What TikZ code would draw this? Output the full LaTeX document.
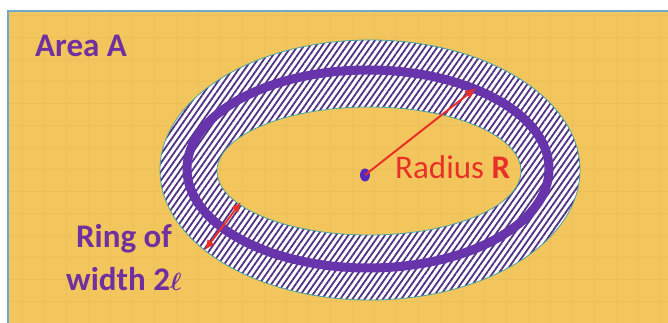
\documentclass[tikz,border=0pt]{standalone}
\usepackage{bm}
\usepackage{fontspec}
\setmainfont{Carlito}
\usetikzlibrary{arrows.meta,positioning,patterns.meta,shapes.geometric}
\definecolor{areayellow}{RGB}{242,198,92}
\definecolor{gridyellow}{RGB}{235,191,89}
\definecolor{framblue}{RGB}{110,170,205}
\definecolor{textpurple}{RGB}{112,48,160}
\definecolor{ringpurple}{RGB}{104,52,172}
\definecolor{hatchpurple}{RGB}{80,50,130}
\definecolor{arrowred}{RGB}{232,48,40}
\definecolor{edgeteal}{RGB}{70,165,160}

\begin{document}
\begin{tikzpicture}[
    x=1pt, y=1pt,
    >=Latex,
    lbl/.style={
        text=textpurple,
        font=\fontsize{33}{40}\selectfont\bfseries,
        inner sep=0pt
    },
    redarrow/.style={
        draw=arrowred,
        fill=arrowred,
        line width=2pt
    },
    hatchring/.style={
        even odd rule,
        pattern={Lines[angle=55,distance=5pt,line width=1.8pt]},
        pattern color=hatchpurple
    }
]

\useasboundingbox (0,0) rectangle (668,323);
\fill[white] (0,0) rectangle (668,323);

% area A
\fill[areayellow] (8,0) rectangle (668,312);
\draw[gridyellow,line width=0.4pt] (8,0) grid[step=22] (668,312);
\draw[framblue,line width=1.2pt] (8,0) -- (8,312) -- (668,312);

% ring of width 2l
\fill[white,even odd rule]
    (370,153) ellipse[x radius=210,y radius=130]
    (369,152) ellipse[x radius=152,y radius=64];
\fill[hatchring]
    (370,153) ellipse[x radius=210,y radius=130]
    (369,152) ellipse[x radius=152,y radius=64];
\draw[edgeteal,line width=0.8pt] (370,153) ellipse[x radius=210,y radius=130];
\draw[edgeteal,line width=0.8pt] (369,152) ellipse[x radius=152,y radius=64];
\draw[ringpurple,line width=9pt] (368,154) ellipse[x radius=181,y radius=99];

% centre and radius
\node[fill=ringpurple!80!blue,ellipse,minimum width=10pt,minimum height=13pt,
      inner sep=0pt] (dot) at (365,148) {};
\coordinate (rtip) at (476,235);
\draw[redarrow,-{Latex[length=11pt,width=10pt]}] (dot.center) -- (rtip);

\coordinate (winner) at (241,121);
\coordinate (wouter) at (205,73);
\draw[redarrow,{Latex[length=10pt,width=9pt]}-{Latex[length=10pt,width=9pt]}]
    (wouter) -- (winner);

% labels
\node[lbl,anchor=base west] (area) at (35,266) {Area A};
\node[anchor=base west,inner sep=0pt,text=arrowred,
      font=\fontsize{33}{40}\selectfont] (radius) at (395,144)
    {Radius \textbf{R}};
\node[lbl,anchor=base] (ring) at (124,75) {Ring of};
\node[lbl,anchor=base] (width) at (124,32) {width 2$\bm{\ell}$};

\end{tikzpicture}
\end{document}
